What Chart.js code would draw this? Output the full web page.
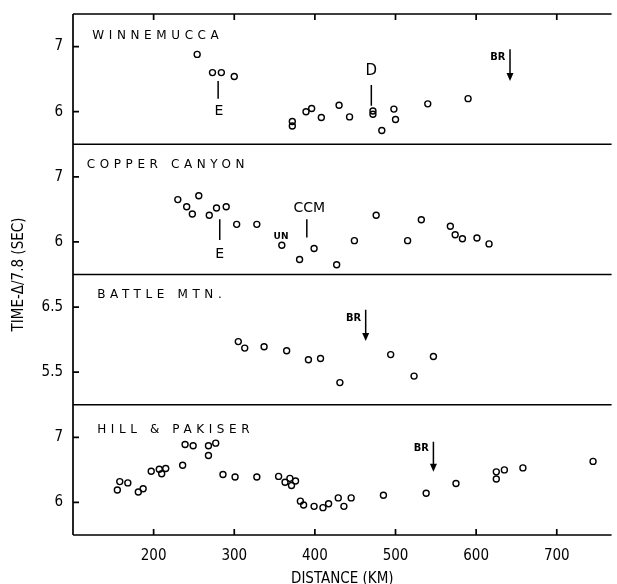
<!DOCTYPE html>
<html><head><meta charset="utf-8">
<script src="https://cdn.jsdelivr.net/npm/chart.js@4/dist/chart.umd.min.js"></script>
<style>html,body{margin:0;padding:0;background:#fff;overflow:hidden}#wrap{width:617px;height:584px;position:relative}</style>
</head><body><div id="wrap"><canvas id="c"></canvas></div>
<script>
// ---- data (distance km, time - delta/7.8 sec) ----
const xTicks = [200, 300, 400, 500, 600, 700];
const panelNames = ['WINNEMUCCA', 'COPPER CANYON', 'BATTLE MTN.', 'HILL & PAKISER'];
const panelTicks = [[6, 7], [6, 7], [5.5, 6.5], [6, 7]];
const panelRanges = [[5.5, 7.5], [5.5, 7.5], [5.0, 7.0], [5.5, 7.5]];

const winDist = [254, 273, 284, 300, 372, 372, 389, 396, 408, 430, 443, 472, 472, 483, 498, 500, 540, 590];
const winTime = [6.88, 6.60, 6.60, 6.54, 5.85, 5.78, 6.00, 6.05, 5.91, 6.10, 5.92, 6.01, 5.96, 5.71, 6.04, 5.88, 6.12, 6.20];

const ccDist = [230, 241, 248, 256, 269, 278, 290, 303, 328, 359, 381, 399, 427, 449, 476, 515, 532, 568, 574, 583, 601, 616];
const ccTime = [6.65, 6.54, 6.43, 6.71, 6.41, 6.52, 6.54, 6.27, 6.27, 5.95, 5.73, 5.90, 5.65, 6.02, 6.41, 6.02, 6.34, 6.24, 6.11, 6.05, 6.06, 5.97];

const bmDist = [305, 313, 337, 365, 392, 407, 431, 494, 523, 547];
const bmTime = [5.97, 5.87, 5.89, 5.83, 5.69, 5.71, 5.34, 5.77, 5.44, 5.74];

const hpDist = [155, 158, 168, 181, 187, 197, 207, 210, 215, 236, 239, 249, 268, 268, 277, 286, 301, 328, 355, 363, 369, 371, 376, 382, 386, 399, 410, 417, 429, 436, 445, 485, 538, 575, 625, 625, 635, 658, 745];
const hpTime = [6.19, 6.32, 6.30, 6.16, 6.21, 6.48, 6.51, 6.44, 6.52, 6.57, 6.89, 6.87, 6.87, 6.72, 6.91, 6.43, 6.39, 6.39, 6.40, 6.31, 6.37, 6.26, 6.33, 6.02, 5.96, 5.94, 5.92, 5.98, 6.07, 5.94, 6.07, 6.11, 6.14, 6.29, 6.47, 6.36, 6.50, 6.53, 6.63];

// annotations: [panel, distance, timeTop, timeBottom]
const markLines = [[0, 280, 6.47, 6.20], [0, 470, 6.41, 6.09], [1, 282, 6.35, 6.03], [1, 390, 6.35, 6.07]];
const arrows = [[0, 642, 6.96, 6.47], [2, 463, 6.46, 5.98], [3, 547, 6.93, 6.47]];
// [panel, text, distance, time, kind]
const markLabels = [
  [0, 'E', 281, 6.0, 'big'], [0, 'D', 470, 6.62, 'bigger'], [1, 'E', 282, 5.81, 'big'],
  [1, 'CCM', 393, 6.52, 'big'], [1, 'UN', 358, 6.08, 'small'],
  [0, 'BR', 627, 6.83, 'br'], [2, 'BR', 448, 6.33, 'br'], [3, 'BR', 532, 6.83, 'br']
];
// panel title anchor [distance, time]
const nameAnchors = [[124, 7.17], [117, 7.18], [130, 6.68], [130, 7.12]];

const FONT = "'DejaVu Sans', sans-serif";
const CFONT = "'DejaVu Sans Condensed', 'DejaVu Sans', sans-serif";
const panelIds = ['yA', 'yB', 'yC', 'yD'];
const series = [[winDist, winTime], [ccDist, ccTime], [bmDist, bmTime], [hpDist, hpTime]];

const datasets = series.map((s, i) => ({
  data: s[0].map((d, k) => ({x: d, y: s[1][k]})),
  yAxisID: panelIds[i],
  showLine: false,
  pointStyle: 'circle',
  pointRadius: 3,
  pointBorderWidth: 1.4,
  pointBorderColor: '#000',
  pointBackgroundColor: 'rgba(0,0,0,0)'
}));

const noPad = s => { s.paddingTop = 0; s.paddingBottom = 0; s.paddingLeft = 0; s.paddingRight = 0; };

const scales = {
  x: {
    type: 'linear', position: 'bottom', min: 100, max: 768,
    afterBuildTicks: s => { s.ticks = xTicks.map(v => ({value: v})); },
    grid: {display: false, drawTicks: false}, border: {display: false},
    ticks: {color: '#000', font: {family: CFONT, size: 15}, padding: 12},
    title: {display: true, text: 'DISTANCE (KM)', color: '#000', font: {family: CFONT, size: 15, lineHeight: 1}, padding: {top: 0, bottom: -3}},
    afterFit: s => { s.height = 49; noPad(s); }
  }
};
// stacked axes are laid out bottom-up, so add the lowest panel first
for (let i = panelIds.length - 1; i >= 0; i--) {
  scales[panelIds[i]] = {
    type: 'linear', position: 'left', stack: 'panels', stackWeight: 1,
    min: panelRanges[i][0], max: panelRanges[i][1],
    afterBuildTicks: s => { s.ticks = panelTicks[i].map(v => ({value: v})); },
    grid: {display: false, drawTicks: false}, border: {display: false},
    ticks: {color: '#000', font: {family: CFONT, size: 15}, padding: 10},
    afterFit: s => { s.width = 73; noPad(s); }
  };
}

const framePlugin = {
  id: 'frame',
  afterDatasetsDraw(chart) {
    const ctx = chart.ctx, a = chart.chartArea, xs = chart.scales.x;
    ctx.save();
    ctx.strokeStyle = '#000'; ctx.fillStyle = '#000'; ctx.lineWidth = 1.7;
    ctx.beginPath();
    ctx.moveTo(a.left, a.top); ctx.lineTo(a.left, a.bottom);
    panelIds.forEach(id => {
      const s = chart.scales[id];
      ctx.moveTo(a.left, s.top); ctx.lineTo(a.right, s.top);
      ctx.moveTo(a.left, s.bottom); ctx.lineTo(a.right, s.bottom);
      s.ticks.forEach(t => { const y = s.getPixelForValue(t.value); ctx.moveTo(a.left, y); ctx.lineTo(a.left + 6, y); });
    });
    xTicks.forEach(v => {
      const x = xs.getPixelForValue(v);
      ctx.moveTo(x, a.bottom); ctx.lineTo(x, a.bottom - 6);
      ctx.moveTo(x, a.top); ctx.lineTo(x, a.top + 6);
    });
    ctx.stroke();
    ctx.lineWidth = 1.5;
    ctx.beginPath();
    markLines.forEach(m => {
      const s = chart.scales[panelIds[m[0]]], x = xs.getPixelForValue(m[1]);
      ctx.moveTo(x, s.getPixelForValue(m[2])); ctx.lineTo(x, s.getPixelForValue(m[3]));
    });
    arrows.forEach(m => {
      const s = chart.scales[panelIds[m[0]]], x = xs.getPixelForValue(m[1]);
      ctx.moveTo(x, s.getPixelForValue(m[2])); ctx.lineTo(x, s.getPixelForValue(m[3]) - 5);
    });
    ctx.stroke();
    arrows.forEach(m => {
      const s = chart.scales[panelIds[m[0]]], x = xs.getPixelForValue(m[1]), y = s.getPixelForValue(m[3]);
      ctx.beginPath(); ctx.moveTo(x, y); ctx.lineTo(x - 3.5, y - 8); ctx.lineTo(x + 3.5, y - 8); ctx.closePath(); ctx.fill();
    });
    ctx.textBaseline = 'middle';
    ctx.textAlign = 'center';
    markLabels.forEach(m => {
      const s = chart.scales[panelIds[m[0]]];
      const x = xs.getPixelForValue(m[2]), y = s.getPixelForValue(m[3]);
      if (m[4] === 'big') ctx.font = `14px ${FONT}`;
      else if (m[4] === 'bigger') ctx.font = `15px ${FONT}`;
      else if (m[4] === 'small') ctx.font = `bold 9px ${FONT}`;
      else ctx.font = `bold 11px ${CFONT}`;
      ctx.fillText(m[1], x, y);
    });
    ctx.textAlign = 'left';
    ctx.font = `12px ${FONT}`;
    ctx.letterSpacing = '4.6px';
    panelNames.forEach((n, i) => {
      const s = chart.scales[panelIds[i]];
      ctx.fillText(n, xs.getPixelForValue(nameAnchors[i][0]), s.getPixelForValue(nameAnchors[i][1]));
    });
    ctx.letterSpacing = '0px';
    ctx.translate(19, (a.top + a.bottom) / 2);
    ctx.rotate(-Math.PI / 2);
    ctx.textAlign = 'center';
    ctx.font = `15px ${CFONT}`;
    ctx.fillText('TIME-\u0394/7.8 (SEC)', 0, 0);
    ctx.restore();
  }
};

new Chart(document.getElementById('c'), {
  type: 'scatter',
  data: {datasets},
  options: {
    responsive: true, maintainAspectRatio: false, animation: false,
    plugins: {legend: {display: false}, tooltip: {enabled: false}},
    layout: {padding: {top: 14, left: 0, right: 0, bottom: 0}},
    scales
  },
  plugins: [framePlugin]
});
</script></body></html>
